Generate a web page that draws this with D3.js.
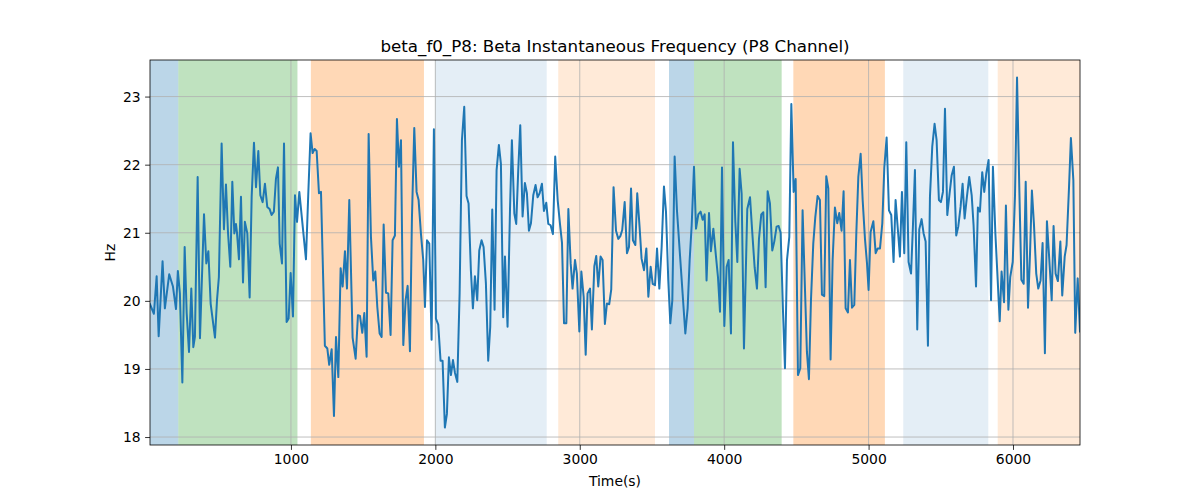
<!DOCTYPE html>
<html><head><meta charset="utf-8">
<script src="https://cdn.jsdelivr.net/npm/d3@7"></script>
<style>body{margin:0;background:#fff}svg{display:block}text{font-family:"DejaVu Sans",sans-serif;fill:#000}</style>
</head><body><svg id="c" width="1200" height="500"></svg>
<script>
const times = [24,51,70,84,111,127,157,183,204,217,231,248,264,278,294,310,324,335,354,370,398,414,428,444,474,488,501,520,536,550,564,580,594,608,619,626,640,654,668,681,698,714,728,744,758,774,788,804,820,
836,852,866,882,896,910,922,938,952,970,984,998,1014,1028,1042,1058,1104,1120,1136,1150,1164,1178,1194,1208,1235,1252,1265,1282,1298,1312,1328,1344,1358,1374,1388,1404,1427,1448,1464,1478,1494,1508,1524,1538,1554,1570,1584,1598,1614,1628,1642,1658,1674,
1690,1704,1720,1734,1748,1762,1778,1794,1808,1824,1838,1854,1870,1884,1900,1916,1928,1942,1958,1974,1990,2004,2020,2036,2050,2066,2080,2094,2108,2122,2136,2152,2168,2184,2200,2216,2230,2246,2260,2274,2290,2304,2320,2334,2350,2366,2380,2394,2410,2424,2440,2454,2470,
2482,2500,2517,2530,2547,2560,2574,2588,2604,2620,2634,2648,2662,2678,2694,2708,2722,2738,2752,2768,2782,2798,2814,2830,2847,2863,2877,2891,2907,2921,2937,2950,2967,2980,2997,3011,3027,3041,3054,3071,3084,3101,3114,3128,3144,3158,3174,3188,3204,3218,3234,3251,3267,3281,3294,3311,3327,3341,
3355,3368,3385,3398,3415,3428,3445,3461,3475,3491,3505,3521,3535,3551,3567,3583,3597,3613,3627,3641,3657,3673,3731,3747,3761,3775,3791,3805,3821,3837,3851,3865,3878,3895,3908,3925,3941,3957,3971,3985,4001,4017,4031,4047,4061,4077,4091,4107,4121,4137,4160,4179,
4195,4211,4227,4241,4257,4271,4287,4301,4317,4333,4347,4363,4377,4391,4407,4421,4435,4451,4465,4481,4495,4511,4527,4543,4559,4573,4587,4601,4617,4631,4647,4663,4677,4693,4707,4721,4737,4751,4767,4783,4797,4813,4827,4841,4857,4871,4885,4901,4915,4929,4945,4959,
4975,4989,5000,5014,5033,5049,5063,5079,5095,5109,5125,5141,5157,5173,5187,5203,5217,5231,5247,5261,5277,5294,5307,5321,5337,5351,5367,5381,5395,5411,5425,5441,5457,5471,5487,5501,5515,5529,5545,5561,5575,5591,5607,5621,5637,5651,5665,5681,5697,5714,5727,5744,5757,5771,5787,5801,5815,5831,
5848,5861,5878,5891,5908,5921,5938,5951,5968,5981,5998,6014,6028,6044,6058,6074,6088,6104,6118,6131,6145,6161,6175,6191,6205,6221,6235,6251,6268,6281,6295,6311,6328,6341,6358,6371,6388,6401,6418,6431,6448,6464];
const freqs = [19.95,19.81,20.36,19.48,20.58,19.89,20.39,20.21,19.88,20.44,20.11,18.80,20.79,19.82,19.25,20.18,19.32,19.47,21.82,19.45,21.27,20.55,20.73,19.96,19.46,20.01,20.35,22.31,21.05,21.71,21.01,20.50,21.75,20.99,21.13,21.01,20.61,21.53,20.27,21.16,20.99,20.05,21.53,22.32,21.67,22.20,21.55,21.45,21.72,
21.38,21.35,21.26,21.31,21.79,21.96,20.84,20.55,22.31,19.69,19.74,20.41,19.77,21.55,21.16,21.60,20.61,21.57,22.46,22.17,22.23,22.20,21.58,21.60,19.34,19.30,19.06,19.29,18.31,19.47,18.88,20.48,20.21,20.73,20.18,21.48,19.46,19.15,19.79,19.78,19.53,19.82,19.18,22.45,20.94,20.30,20.43,19.91,19.52,19.47,21.12,20.12,20.11,
19.50,20.89,20.96,22.67,21.97,22.36,19.35,20.01,20.22,19.26,21.23,22.54,21.60,21.48,20.99,20.60,19.91,20.89,20.84,19.43,22.52,19.74,19.65,19.12,19.12,18.14,18.34,19.17,18.91,19.13,18.94,18.81,20.11,22.36,22.85,21.54,21.43,20.45,19.89,20.36,20.01,20.74,20.89,20.79,20.26,19.12,19.62,21.34,19.87,21.92,22.29,22.01,19.76,
20.65,19.62,21.35,22.36,21.28,21.13,21.92,22.58,21.24,21.73,21.58,21.03,21.14,21.55,21.70,21.52,21.58,21.72,21.32,21.44,21.13,21.11,20.98,22.12,21.48,21.13,20.85,19.67,19.67,21.35,20.55,20.18,20.60,20.40,19.55,20.43,20.06,19.21,20.11,20.18,19.58,20.51,20.66,20.21,20.65,20.60,19.66,19.96,19.95,20.17,21.67,21.03,20.91,20.95,21.04,21.45,20.70,20.79,
21.65,20.89,20.82,21.58,21.06,20.62,20.45,20.77,20.06,20.50,20.25,20.23,20.77,20.18,20.79,21.68,21.31,20.30,19.67,20.01,22.12,21.33,19.52,19.89,20.60,21.11,21.97,21.06,21.27,21.31,21.19,21.27,20.30,21.29,20.73,21.06,20.70,20.35,19.84,21.96,19.63,20.50,20.60,19.52,22.33,21.17,20.57,21.94,21.57,19.30,21.35,21.52,
20.99,20.49,20.18,20.91,21.27,21.30,20.20,21.61,21.43,20.74,20.87,21.09,21.10,21.00,19.87,19.01,20.60,20.94,22.89,21.60,21.79,18.91,19.01,21.33,20.21,19.25,18.85,20.01,20.84,21.23,21.54,21.48,20.09,20.07,21.83,21.65,19.14,20.60,21.37,21.14,21.29,21.03,21.61,19.89,19.83,20.60,19.90,19.94,20.99,21.82,22.16,21.48,
20.91,20.55,20.16,21.01,21.17,20.70,20.77,20.77,21.14,21.96,22.40,21.33,21.26,20.57,21.48,21.04,20.65,21.60,20.70,22.33,20.57,20.40,21.09,21.92,19.58,21.05,21.20,20.99,20.87,19.34,21.53,22.27,22.60,22.36,21.48,21.45,21.60,22.82,21.26,21.58,21.84,21.97,20.96,21.09,21.38,21.72,21.21,21.53,21.82,21.55,21.11,20.21,21.37,21.31,21.89,21.60,21.87,22.07,
20.01,21.97,20.99,20.43,19.70,20.43,19.98,21.40,19.87,20.35,20.57,21.55,23.28,21.62,20.31,20.25,21.75,19.90,20.70,21.62,21.13,20.40,20.18,20.30,20.85,19.23,21.17,20.62,20.01,21.10,20.40,20.29,20.87,20.08,20.65,20.82,21.67,22.39,21.77,19.53,20.33,19.55];

const spanStart = [24,220,1138,1997,2851,3618,3791,4479,5240,5894];
const spanEnd   = [220,1045,1921,2771,3521,3791,4398,5113,5829,6464];
const spanColor = ["#1f77b4","#2ca02c","#ff7f0e","#1f77b4","#ff7f0e","#1f77b4","#2ca02c","#ff7f0e","#1f77b4","#ff7f0e"];
const spanAlpha = [0.3,0.3,0.3,0.12,0.16,0.3,0.3,0.3,0.12,0.16];
const xTicks = [1000,2000,3000,4000,5000,6000];
const yTicks = [18,19,20,21,22,23];

const L=150,R=1080,T=60,B=445;
const svg=d3.select("#c");
const x=d3.scaleLinear().domain([24,6464]).range([L,R]);
const [mn,mx]=d3.extent(freqs); const pad=(mx-mn)*0.05;
const y=d3.scaleLinear().domain([mn-pad,mx+pad]).range([B,T]);
const data=times.map((t,i)=>({t,v:freqs[i]}));

svg.append("g").selectAll("rect").data(spanStart).join("rect")
  .attr("x",(d)=>x(d)).attr("width",(d,i)=>x(spanEnd[i])-x(d))
  .attr("y",T).attr("height",B-T)
  .attr("fill",(d,i)=>spanColor[i]).attr("fill-opacity",(d,i)=>spanAlpha[i]);

const g=svg.append("g");
g.selectAll(".gx").data(xTicks).join("line").attr("x1",d=>x(d)).attr("x2",d=>x(d)).attr("y1",T).attr("y2",B).attr("stroke","#b0b0b0").attr("stroke-width",0.8);
g.selectAll(".gy").data(yTicks).join("line").attr("y1",d=>y(d)).attr("y2",d=>y(d)).attr("x1",L).attr("x2",R).attr("stroke","#b0b0b0").attr("stroke-width",0.8);

svg.append("defs").append("clipPath").attr("id","clip").append("rect").attr("x",L).attr("y",T).attr("width",R-L).attr("height",B-T);
svg.append("path").datum(data).attr("clip-path","url(#clip)")
  .attr("d",d3.line().x(d=>x(d.t)).y(d=>y(d.v)))
  .attr("fill","none").attr("stroke","#1f77b4").attr("stroke-width",2).attr("stroke-linejoin","round").attr("stroke-linecap","square");

const xa=svg.append("g").attr("transform",`translate(0,${B})`).call(d3.axisBottom(x).tickValues(xTicks).tickFormat(d3.format("d")).tickSize(4.9).tickPadding(4.5));
const ya=svg.append("g").attr("transform",`translate(${L},0)`).call(d3.axisLeft(y).tickValues(yTicks).tickFormat(d3.format("d")).tickSize(4.9).tickPadding(4.5));
[xa,ya].forEach(a=>{a.select(".domain").remove();a.selectAll("line").attr("stroke","#000").attr("stroke-width",0.8);a.selectAll("text").attr("font-size",13.9).attr("font-family","DejaVu Sans");});

svg.append("rect").attr("x",L).attr("y",T).attr("width",R-L).attr("height",B-T).attr("fill","none").attr("stroke","#000").attr("stroke-width",0.8);

svg.append("text").attr("x",(L+R)/2).attr("y",52).attr("text-anchor","middle").attr("font-size",16.7).text("beta_f0_P8: Beta Instantaneous Frequency (P8 Channel)");
svg.append("text").attr("x",(L+R)/2).attr("y",486).attr("text-anchor","middle").attr("font-size",13.9).text("Time(s)");
svg.append("text").attr("transform",`translate(115,${(T+B)/2}) rotate(-90)`).attr("text-anchor","middle").attr("font-size",13.9).text("Hz");
</script></body></html>
